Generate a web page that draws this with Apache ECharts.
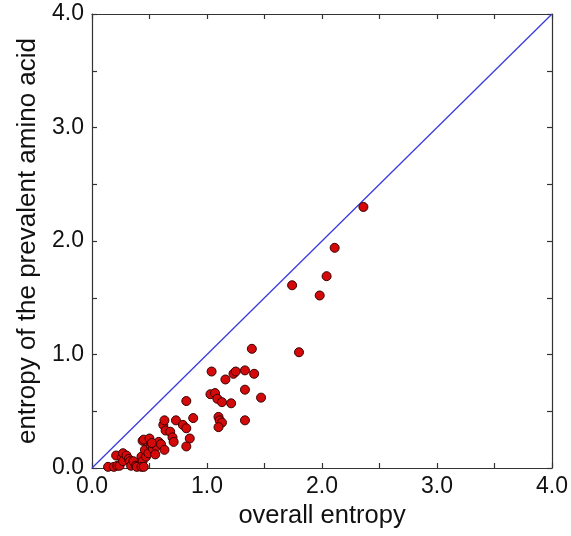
<!DOCTYPE html>
<html>
<head>
<meta charset="utf-8">
<script src="https://cdn.jsdelivr.net/npm/echarts@6/dist/echarts.min.js"></script>
<style>html,body{margin:0;padding:0;background:#fff}#c{width:571px;height:536px}</style>
</head>
<body>
<div id="c"></div>
<script>
const xTicks = [0, 1, 2, 3, 4];
const yTicks = [0, 1, 2, 3, 4];
const xName = 'overall entropy';
const yName = 'entropy of the prevalent amino acid';
const diagonal = [[0, 0], [4, 4]];
const points = [
  [0.14,0.01],[0.19,0.01],[0.21,0.11],[0.22,0.02],[0.24,0.02],[0.26,0.09],[0.27,0.13],[0.27,0.06],
  [0.30,0.11],[0.32,0.08],[0.33,0.06],[0.34,0.02],[0.36,0.06],[0.38,0.02],[0.39,0.01],[0.43,0.10],
  [0.44,0.06],[0.43,0.01],[0.45,0.01],[0.46,0.16],[0.47,0.10],[0.49,0.13],[0.44,0.24],[0.45,0.25],
  [0.50,0.26],[0.51,0.20],[0.53,0.17],[0.56,0.19],[0.58,0.23],[0.60,0.21],[0.63,0.16],[0.55,0.12],
  [0.52,0.22],
  [0.62,0.38],[0.63,0.42],[0.64,0.33],[0.68,0.32],[0.70,0.27],[0.71,0.23],[0.73,0.42],[0.79,0.38],
  [0.82,0.35],[0.85,0.26],[0.82,0.19],[0.82,0.59],[0.88,0.44],
  [1.03,0.65],[1.07,0.66],[1.09,0.61],[1.13,0.58],[1.21,0.57],[1.04,0.85],[1.16,0.78],[1.23,0.83],
  [1.25,0.85],[1.33,0.86],[1.41,0.83],[1.33,0.69],[1.47,0.62],[1.10,0.45],[1.11,0.42],[1.13,0.40],
  [1.10,0.36],[1.33,0.42],[1.39,1.05],
  [1.74,1.61],[1.80,1.02],[1.98,1.52],[2.04,1.69],[2.11,1.94],[2.36,2.30]
];

const font = 'Liberation Sans, Arial, Helvetica, sans-serif';
const fmt = v => (xTicks.indexOf(v) >= 0 ? v.toFixed(1) : '');
const fmtY = v => (yTicks.indexOf(v) >= 0 ? v.toFixed(1) : '');
const axisLine = { show: true, onZero: false, lineStyle: { color: '#333', width: 1.2 } };
const tick = { show: true, inside: true, length: 5, lineStyle: { color: '#333', width: 1.2 } };

const chart = echarts.init(document.getElementById('c'), null, { renderer: 'canvas' });
chart.setOption({
  animation: false,
  backgroundColor: '#fff',
  grid: { left: 92, right: 18, top: 14, bottom: 68 },
  xAxis: [
    { type: 'value', min: 0, max: 4, interval: 0.5, position: 'bottom',
      name: xName, nameLocation: 'middle', nameGap: 34,
      nameTextStyle: { fontSize: 25.5, color: '#111', fontFamily: font },
      axisLine, axisTick: tick, splitLine: { show: false },
      axisLabel: { formatter: fmt, fontSize: 23, color: '#111', fontFamily: font, margin: 7 } },
    { type: 'value', min: 0, max: 4, interval: 0.5, position: 'top',
      axisLine, axisTick: tick, splitLine: { show: false }, axisLabel: { show: false } }
  ],
  yAxis: [
    { type: 'value', min: 0, max: 4, interval: 0.5, position: 'left',
      name: yName, nameLocation: 'middle', nameGap: 42, nameRotate: 90,
      nameTextStyle: { fontSize: 26, color: '#111', fontFamily: font },
      axisLine, axisTick: tick, splitLine: { show: false },
      axisLabel: { formatter: fmtY, fontSize: 23, color: '#111', fontFamily: font, margin: 8 } },
    { type: 'value', min: 0, max: 4, interval: 0.5, position: 'right',
      axisLine, axisTick: tick, splitLine: { show: false }, axisLabel: { show: false } }
  ],
  series: [
    { type: 'line', data: diagonal, xAxisIndex: 0, yAxisIndex: 0, symbol: 'none',
      lineStyle: { color: '#3b3bdc', width: 1.3 }, z: 1 },
    { type: 'scatter', data: points, xAxisIndex: 0, yAxisIndex: 0, symbolSize: 9,
      itemStyle: { color: '#d40a0a', borderColor: '#3a0000', borderWidth: 1, opacity: 1 }, z: 2 }
  ]
});
</script>
</body>
</html>
